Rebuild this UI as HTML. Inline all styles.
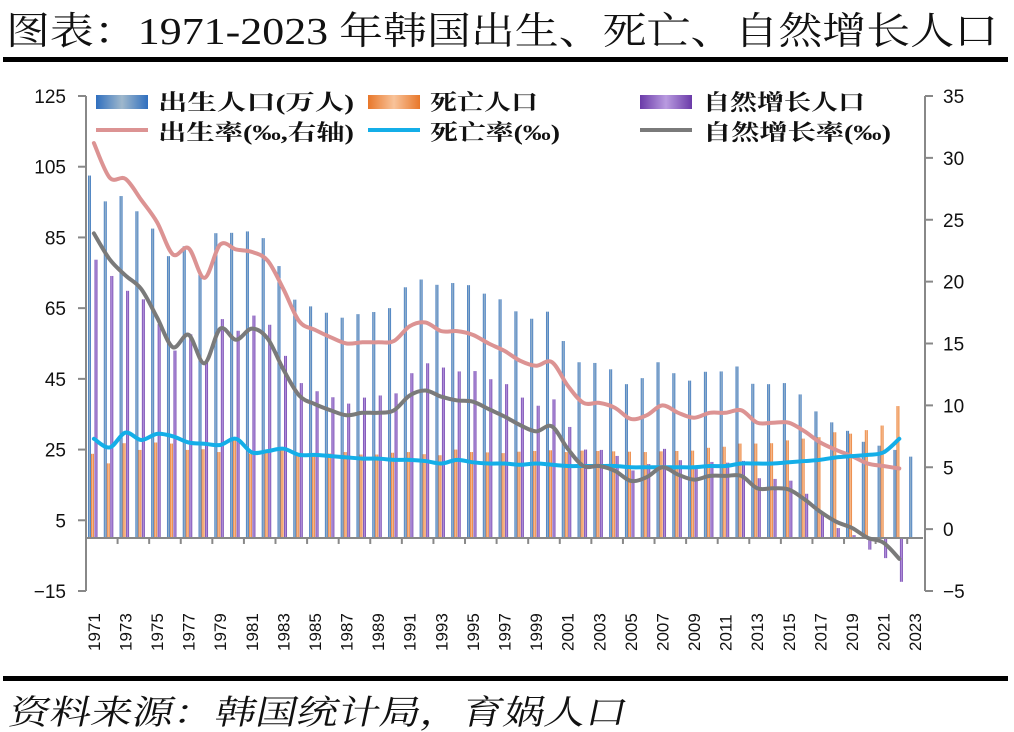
<!DOCTYPE html>
<html><head><meta charset="utf-8"><style>
html,body{margin:0;padding:0;background:#fff;}
body{width:1014px;height:732px;overflow:hidden;position:relative;}
svg{position:absolute;left:0;top:0;}
</style></head><body>
<svg id="chart" width="1014" height="732" viewBox="0 0 1014 732">
<defs>
<linearGradient id="gBlue" x1="0" x2="1"><stop offset="0" stop-color="#2f6fbf"/><stop offset="0.5" stop-color="#9fb8cc"/><stop offset="1" stop-color="#2f6fbf"/></linearGradient>
<linearGradient id="gOrange" x1="0" x2="1"><stop offset="0" stop-color="#e8772a"/><stop offset="0.5" stop-color="#f8c39a"/><stop offset="1" stop-color="#e8772a"/></linearGradient>
<linearGradient id="gPurple" x1="0" x2="1"><stop offset="0" stop-color="#6a3aa8"/><stop offset="0.5" stop-color="#b99be0"/><stop offset="1" stop-color="#6a3aa8"/></linearGradient>
</defs>
<text x="6" y="44" font-family="'Liberation Serif','Noto Serif CJK SC',serif" font-size="38" textLength="992" lengthAdjust="spacingAndGlyphs" fill="#111">图表：1971-2023 年韩国出生、死亡、自然增长人口</text>
<rect x="3" y="57" width="1005" height="5" fill="#000"/>
<rect x="3" y="676" width="1005" height="5" fill="#000"/>
<text x="8" y="724" font-family="'Liberation Serif','Noto Serif CJK SC',serif" font-size="34" transform="translate(153,0) skewX(-12)" textLength="618" lengthAdjust="spacingAndGlyphs" fill="#111">资料来源：韩国统计局，育娲人口</text>
<g id="plot"></g>
<g id="legend" font-family="'Liberation Serif','Noto Serif CJK SC',serif" font-size="22" font-weight="bold" fill="#111">
<g><rect x="96" y="95" width="52" height="14" fill="url(#gBlue)"/><text x="158" y="110" textLength="196" lengthAdjust="spacingAndGlyphs">出生人口(万人)</text></g>
<g><rect x="368" y="95" width="52" height="14" fill="url(#gOrange)"/><text x="430" y="110" textLength="108" lengthAdjust="spacingAndGlyphs">死亡人口</text></g>
<g><rect x="640" y="95" width="52" height="14" fill="url(#gPurple)"/><text x="703" y="110" textLength="162" lengthAdjust="spacingAndGlyphs">自然增长人口</text></g>
<g><line x1="96" y1="130" x2="148" y2="130" stroke="#dc9393" stroke-width="4"/><text x="158" y="140" textLength="196" lengthAdjust="spacingAndGlyphs">出生率(‰,右轴)</text></g>
<g><line x1="368" y1="130" x2="420" y2="130" stroke="#14aee8" stroke-width="4"/><text x="430" y="140" textLength="130" lengthAdjust="spacingAndGlyphs">死亡率(‰)</text></g>
<g><line x1="640" y1="130" x2="692" y2="130" stroke="#7a7a7a" stroke-width="4"/><text x="703" y="140" textLength="188" lengthAdjust="spacingAndGlyphs">自然增长率(‰)</text></g>
</g>
</svg>
<script>
const years = [];
for (let y = 1971; y <= 2023; y++) years.push(y);
const births = [102.5,95.2,96.7,92.4,87.5,79.7,82.5,75.0,86.2,86.3,86.7,84.8,76.9,67.4,65.5,63.7,62.3,63.3,63.9,65.0,70.9,73.1,71.6,72.1,71.5,69.1,67.5,64.1,62.0,64.0,55.7,49.7,49.5,47.7,43.5,45.2,49.7,46.6,44.5,47.0,47.1,48.5,43.6,43.5,43.8,40.6,35.8,32.7,30.3,27.2,26.1,24.9,23.0];
const deaths = [23.8,21.1,26.8,24.9,27.0,26.7,24.9,25.1,24.3,27.7,23.8,24.5,25.4,23.6,24.0,23.9,24.3,23.6,23.6,24.1,24.3,23.7,23.4,25.0,24.3,24.2,24.0,24.4,24.6,24.8,24.3,24.7,24.6,24.5,24.4,24.3,24.5,24.6,24.7,25.5,25.8,26.7,26.7,26.8,27.6,28.1,28.5,29.9,29.5,30.5,31.8,37.3,null];
const natural = [78.7,74.1,69.9,67.5,60.5,53.0,57.6,49.9,61.9,58.6,62.9,60.3,51.5,43.8,41.5,39.8,38.0,39.7,40.3,40.9,46.6,49.4,48.2,47.1,47.2,44.9,43.5,39.7,37.4,39.2,31.4,25.0,24.9,23.2,19.1,20.9,25.2,22.0,19.8,21.5,21.3,21.8,16.9,16.7,16.2,12.5,7.3,2.8,0.8,-3.3,-5.7,-12.4,null];
const birthRate = [31.2,28.4,28.3,26.6,24.8,22.2,22.7,20.3,23.0,22.6,22.4,21.7,19.4,16.8,16.1,15.5,15.0,15.1,15.1,15.2,16.4,16.7,16.0,16.0,15.7,15.0,14.4,13.6,13.2,13.5,11.6,10.2,10.2,9.8,8.9,9.2,10.0,9.4,9.0,9.4,9.4,9.6,8.6,8.6,8.6,7.9,7.0,6.4,5.9,5.3,5.1,4.9,null];
const deathRate = [7.3,6.6,7.8,7.2,7.7,7.5,7.0,6.9,6.8,7.3,6.2,6.3,6.5,6.0,6.0,5.9,5.8,5.7,5.7,5.6,5.6,5.5,5.3,5.6,5.4,5.3,5.3,5.2,5.3,5.2,5.1,5.1,5.1,5.1,5.0,5.0,5.0,5.0,5.0,5.1,5.1,5.3,5.3,5.3,5.4,5.5,5.6,5.8,5.9,6.0,6.2,7.3,null];
const naturalRate = [23.9,21.8,20.5,19.4,17.1,14.7,15.7,13.4,16.2,15.3,16.2,15.4,12.9,10.8,10.1,9.6,9.2,9.4,9.4,9.6,10.8,11.2,10.7,10.4,10.3,9.7,9.1,8.4,7.9,8.3,6.5,5.1,5.1,4.7,3.9,4.2,5.0,4.4,4.0,4.3,4.3,4.3,3.3,3.3,3.2,2.4,1.4,0.6,0.1,-0.7,-1.1,-2.4,null];
const leftTicks = [125,105,85,65,45,25,5,-15];
const rightTicks = [35,30,25,20,15,10,5,0,-5];

const NS = 'http://www.w3.org/2000/svg';
const plot = document.getElementById('plot');
const X0 = 86, X1 = 923, Ytop = 96, Ybot = 591;
const cw = (X1 - X0) / years.length;
function yL(v){ return Ytop + (125 - v) * (Ybot - Ytop) / 140; }
function yR(v){ return Ytop + (35 - v) * (Ybot - Ytop) / 40; }
function xC(i){ return X0 + i * cw; }
function mk(tag, attrs, parent){ const e = document.createElementNS(NS, tag); for (const k in attrs) e.setAttribute(k, attrs[k]); (parent||plot).appendChild(e); return e; }

let a = mk('line',{x1:X0,y1:Ytop,x2:X0,y2:Ybot,stroke:'#888','stroke-width':2});


a = mk('line',{x1:X1+2,y1:Ytop,x2:X1+2,y2:Ybot,stroke:'#888','stroke-width':2});


leftTicks.forEach(v=>{
  mk('line',{x1:X0-8,y1:yL(v),x2:X0,y2:yL(v),stroke:'#888','stroke-width':2});
  const t = mk('text',{x:X0-20,y:yL(v)+7,'text-anchor':'end','font-family':"'Liberation Sans',sans-serif",'font-size':19,fill:'#111'});
  t.textContent = v===-15?'\u221215':v;
  
  
});
rightTicks.forEach(v=>{
  mk('line',{x1:X1+2,y1:yR(v),x2:X1+10,y2:yR(v),stroke:'#888','stroke-width':2});
  const t = mk('text',{x:X1+20,y:yR(v)+7,'font-family':"'Liberation Sans',sans-serif",'font-size':19,fill:'#111'});
  t.textContent = v<0?'\u2212'+(-v):v;
  
  
});
years.forEach((yr,i)=>{
  const x = xC(i);
  const series = [[births[i],'url(#gBlue)',2,'bar-births'],[deaths[i],'url(#gOrange)',5,'bar-deaths'],[natural[i],'url(#gPurple)',8.5,'bar-natural']];
  series.forEach(s=>{
    if (s[0]===null) return;
    const y0 = yL(0), y1 = yL(s[0]);
    const b = mk('rect',{x:x+s[2],y:Math.min(y0,y1),width:3,height:Math.abs(y1-y0),fill:s[1]});
    
    
  });
});
a = mk('line',{x1:X0,y1:yL(0),x2:X1,y2:yL(0),stroke:'#888','stroke-width':2});


years.forEach((yr,i)=>{
  if (i%2===0 && i>0) mk('line',{x1:xC(i),y1:yL(0),x2:xC(i),y2:yL(0)+6,stroke:'#888','stroke-width':2});
  if (i%2===0){
    const cx = xC(i)+cw/2+6;
    const t = mk('text',{x:0,y:0,transform:`translate(${cx},651) rotate(-90)`,'font-family':"'Liberation Sans',sans-serif",'font-size':17,fill:'#111'});
    t.textContent = yr;
    
    
  }
});
function smooth(pts){
  let d = `M${pts[0][0]},${pts[0][1]}`;
  for (let i=0;i<pts.length-1;i++){
    const p0=pts[Math.max(0,i-1)],p1=pts[i],p2=pts[i+1],p3=pts[Math.min(pts.length-1,i+2)];
    const c1=[p1[0]+(p2[0]-p0[0])/6,p1[1]+(p2[1]-p0[1])/6];
    const c2=[p2[0]-(p3[0]-p1[0])/6,p2[1]-(p3[1]-p1[1])/6];
    d+=` C${c1[0]},${c1[1]} ${c2[0]},${c2[1]} ${p2[0]},${p2[1]}`;
  }
  return d;
}
[[birthRate,'#dc9393','line-birth-rate'],[deathRate,'#14aee8','line-death-rate'],[naturalRate,'#7a7a7a','line-natural-rate']].forEach(s=>{
  const pts=[];
  s[0].forEach((v,i)=>{ if(v!==null) pts.push([xC(i)+cw/2, yR(v)]); });
  const p = mk('path',{d:smooth(pts),fill:'none',stroke:s[1],'stroke-width':4,'stroke-linejoin':'round','stroke-linecap':'round'});
  
  
});
</script>
</body></html>
